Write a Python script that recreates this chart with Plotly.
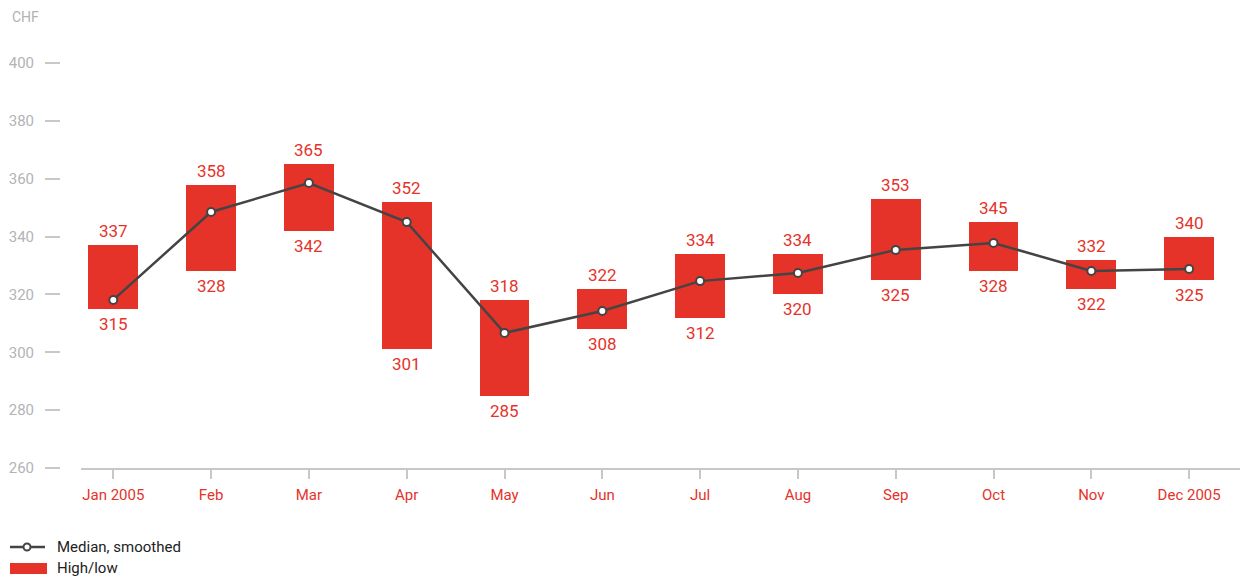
import plotly.graph_objects as go

# --- data -------------------------------------------------------------------
months = ["Jan 2005", "Feb", "Mar", "Apr", "May", "Jun",
          "Jul", "Aug", "Sep", "Oct", "Nov", "Dec 2005"]
high = [337, 358, 365, 352, 318, 322, 334, 334, 353, 345, 332, 340]
low = [315, 328, 342, 301, 285, 308, 312, 320, 325, 328, 322, 325]
median = [318.1, 348.5, 358.5, 345.0, 306.7, 314.3, 324.6, 327.4, 335.4, 337.8, 328.1, 328.8]
y_ticks = [260, 280, 300, 320, 340, 360, 380, 400]

RED = "#e5332a"
GREY = "#b3b3b3"
LINE_GREY = "#c8c8c8"
DARK = "#444444"
FONT = "Roboto, sans-serif"

# page body adds an 8px margin, so the figure is drawn 8px smaller and
# screen positions below are converted back through OFF
OFF = 8
W, H = 1254 - OFF, 580 - OFF
ML, MR, MT, MB = 52, 14, 55, 112
PW, PH = W - ML - MR, H - MT - MB

x = list(range(len(months)))


def px_x(p):
    return (p - OFF - ML) / PW


def px_y(p):
    return (H - MB - (p - OFF)) / PH


fig = go.Figure()

fig.add_bar(
    x=x, y=[h - l for h, l in zip(high, low)], base=low,
    width=0.51, marker=dict(color=RED, line_width=0),
    hoverinfo="skip", showlegend=False,
)

fig.add_scatter(
    x=x, y=median, mode="lines+markers",
    line=dict(color=DARK, width=2.5),
    marker=dict(symbol="circle", size=8, color="white", line=dict(color=DARK, width=2)),
    showlegend=False,
)

# high / low value labels
for xi, h, l in zip(x, high, low):
    fig.add_annotation(x=xi, y=h, text=str(h), showarrow=False,
                       yanchor="bottom", yshift=2,
                       font=dict(color=RED, size=17, family=FONT))
    fig.add_annotation(x=xi, y=l, text=str(l), showarrow=False,
                       yanchor="top", yshift=-3,
                       font=dict(color=RED, size=17, family=FONT))

# --- manual legend ------------------------------------------------------------
fig.add_shape(type="line", xref="paper", yref="paper",
              x0=px_x(10), x1=px_x(45), y0=px_y(547), y1=px_y(547),
              line=dict(color=DARK, width=2.5))
fig.add_shape(type="circle", xref="paper", yref="paper",
              x0=px_x(23.5), x1=px_x(30.5), y0=px_y(543.5), y1=px_y(550.5),
              fillcolor="white", line=dict(color=DARK, width=2))
fig.add_shape(type="rect", xref="paper", yref="paper",
              x0=px_x(10), x1=px_x(47), y0=px_y(563), y1=px_y(574),
              fillcolor=RED, line_width=0)
for label, ypos in [("Median, smoothed", 547), ("High/low", 568)]:
    fig.add_annotation(text=label, xref="paper", yref="paper",
                       x=px_x(55), y=px_y(ypos), xanchor="left", yanchor="middle",
                       showarrow=False, font=dict(color="#222222", size=15, family=FONT))

fig.add_annotation(text="CHF", xref="paper", yref="paper",
                   x=px_x(10), y=px_y(17), xanchor="left", yanchor="middle",
                   showarrow=False, font=dict(color=GREY, size=14, family=FONT))

fig.update_layout(
    width=W, height=H,
    margin=dict(l=ML, r=MR, t=MT, b=MB, autoexpand=False),
    plot_bgcolor="white", paper_bgcolor="white",
    font=dict(family=FONT),
    xaxis=dict(
        domain=[21 / PW, 1], range=[-0.33, 11.52],
        tickvals=x, ticktext=months,
        tickfont=dict(color=RED, size=15, family=FONT),
        showgrid=False, zeroline=False, automargin=False,
        showline=True, linecolor=LINE_GREY, linewidth=1.5,
        ticks="outside", ticklen=9, tickcolor=LINE_GREY, tickwidth=1.5,
        ticklabelstandoff=3,
    ),
    yaxis=dict(
        range=[260, 400], anchor="free", position=0,
        tickvals=y_ticks, ticktext=[str(v) for v in y_ticks],
        tickfont=dict(color=GREY, size=15, family=FONT),
        showgrid=False, zeroline=False, showline=False, automargin=False,
        ticks="outside", ticklen=15, tickcolor=LINE_GREY, tickwidth=1.5,
        ticklabelstandoff=8,
    ),
    bargap=0,
)

fig.write_html("out.html")
